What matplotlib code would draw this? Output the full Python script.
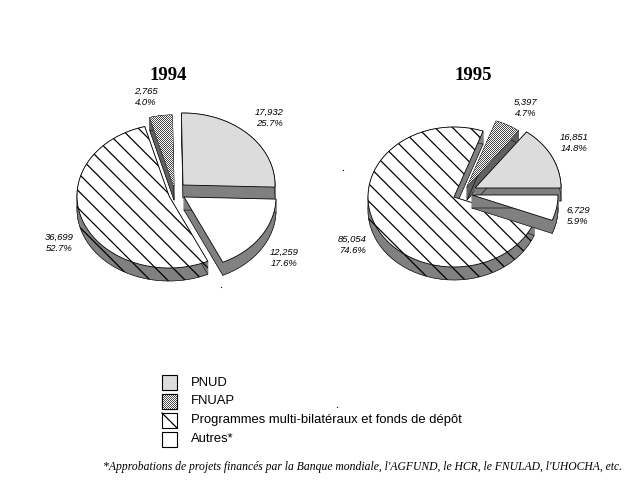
import numpy as np
import matplotlib
matplotlib.use('Agg')
import matplotlib.pyplot as plt
from matplotlib.colors import ListedColormap
from matplotlib.patches import Polygon, Rectangle
from matplotlib.collections import LineCollection

# Values, in the clockwise order of the slices
slices = ['PNUD', 'Autres', 'Multi', 'FNUAP']
values_1994 = [17932, 12259, 36699, 2765]
values_1995 = [16851, 6729, 85054, 5397]

legend_labels = ['PNUD', 'FNUAP', 'Programmes multi-bilatéraux et fonds de dépôt', 'Autres*']
legend_keys = ['PNUD', 'FNUAP', 'Multi', 'Autres']
footnote = "*Approbations de projets financés par la Banque mondiale, l'AGFUND, le HCR, le FNULAD, l'UHOCHA, etc."

# Look of each slice
face = {'PNUD': '#dcdcdc', 'FNUAP': 'white', 'Multi': 'white', 'Autres': 'white'}
side = '#808080'
side_fnuap = '#606060'

# Pixel layout of each pie: centre of every exploded slice, radii, label spots
layout_1994 = {
    'title': (168, 76), 'start': 91, 'rx': 92, 'ry': 72, 'thick': 13,
    'centre': {'PNUD': (183, 185), 'Autres': (184, 197), 'Multi': (169, 196), 'FNUAP': (174, 187)},
    'order': ['FNUAP', 'PNUD', 'Multi', 'Autres'],
    'label': {'PNUD': (269, 118), 'Autres': (284, 258), 'Multi': (59, 243), 'FNUAP': (146, 97)},
}
layout_1995 = {
    'title': (473, 75), 'start': 53.2, 'rx': 86, 'ry': 70, 'thick': 13,
    'centre': {'PNUD': (475, 188), 'Autres': (472, 195), 'Multi': (454, 197), 'FNUAP': (467, 187)},
    'order': ['Multi', 'FNUAP', 'PNUD', 'Autres'],
    'label': {'PNUD': (574, 143), 'Autres': (578, 216), 'Multi': (352, 245), 'FNUAP': (526, 108)},
}

# Stray scan specks in the picture
specks_x = [241, 198, 230, 221, 343, 458, 337]
specks_y = [174, 189, 222, 287, 170, 169, 407]

fig = plt.figure(figsize=(6.4, 4.8), dpi=100)
ax = fig.add_axes([0, 0, 1, 1])
ax.axis('off')

# one pixel dither for the FNUAP pattern
yy, xx = np.mgrid[0:480, 0:640]
dither = (xx + yy) % 2
dither_cmap = ListedColormap(['#4a4a4a', 'white'])


def dither_fill(patch, z):
    im = ax.imshow(dither, cmap=dither_cmap, extent=(0, 640, 480, 0), aspect='auto',
                   interpolation='nearest', zorder=z)
    im.set_clip_path(patch)


def hatch_lines(poly, z, spacing=17.5):
    """Diagonal hatch clipped to a polygon."""
    patch = Polygon(poly, closed=True, facecolor='none', edgecolor='none', zorder=z)
    ax.add_patch(patch)
    segs = [[(c, 0), (c + 480, 480)] for c in np.arange(-480, 640, spacing)]
    lc = LineCollection(segs, colors='black', linewidths=0.9, zorder=z)
    ax.add_collection(lc)
    lc.set_clip_path(patch)


def draw_slice(name, a0, a1, cfg, z):
    cx, cy = cfg['centre'][name]
    t = np.radians(np.linspace(a0, a1, 60))
    arc = np.column_stack([cx + cfg['rx'] * np.cos(t), cy - cfg['ry'] * np.sin(t)])
    top = np.vstack([[cx, cy], arc])
    d = np.array([0, cfg['thick']])
    col = side_fnuap if name == 'FNUAP' else side

    # side walls: sweep every outline edge downwards
    outline = np.vstack([top, top[:1]])
    for p, q in zip(outline[:-1], outline[1:]):
        ax.add_patch(Polygon([p, q, q + d, p + d], closed=True, facecolor=col,
                             edgecolor=col, linewidth=0.5, zorder=z))
    bottom = top + d
    ax.plot(bottom[:, 0], bottom[:, 1], color='black', lw=0.4, zorder=z + 0.05)
    ax.plot(bottom[[0, -1], 0], bottom[[0, -1], 1], color='black', lw=0.4, zorder=z + 0.05)

    if name == 'Multi':
        rim = arc[np.sin(t) < 0]
        if len(rim):
            hatch_lines(np.vstack([rim, (rim + d)[::-1]]), z + 0.1)

    top_patch = Polygon(top, closed=True, facecolor=face[name], edgecolor='black',
                        linewidth=0.6, zorder=z + 0.2)
    ax.add_patch(top_patch)
    if name == 'Multi':
        hatch_lines(top, z + 0.3)
    if name == 'FNUAP':
        dither_fill(top_patch, z + 0.3)


def draw_pie(values, cfg, year):
    total = sum(values)
    ends = np.cumsum(values) / total * 360
    starts = np.r_[0, ends[:-1]]
    spans = {n: (cfg['start'] - s, cfg['start'] - e) for n, s, e in zip(slices, starts, ends)}
    for i, name in enumerate(cfg['order']):
        draw_slice(name, spans[name][0], spans[name][1], cfg, 2 + i)
    for name, v in zip(slices, values):
        x, y = cfg['label'][name]
        ax.text(x, y, f'{v:,}\n{v / total * 100:.1f}%', ha='center', va='center',
                fontsize=6.8, style='italic', family='Liberation Sans', linespacing=1.25,
                zorder=10)
    ax.text(cfg['title'][0], cfg['title'][1], year, ha='center', va='center',
            fontsize=13.5, fontweight='bold', family='Liberation Serif', zorder=10)


draw_pie(values_1994, layout_1994, '1994')
draw_pie(values_1995, layout_1995, '1995')

# Legend
for i, (key, label) in enumerate(zip(legend_keys, legend_labels)):
    y = 375 + 19 * i
    box = Rectangle((162, y), 15, 15, facecolor=face[key], edgecolor='black', linewidth=0.8, zorder=3)
    ax.add_patch(box)
    if key == 'FNUAP':
        dither_fill(box, 3.1)
        ax.add_patch(Rectangle((162, y), 15, 15, facecolor='none', edgecolor='black',
                               linewidth=0.8, zorder=3.2))
    if key == 'Multi':
        ax.plot([162, 177], [y, y + 15], color='black', lw=0.9, zorder=3.2)
    ax.text(191, y + 7.5, label, ha='left', va='center', fontsize=9.35, family='Liberation Sans')

ax.text(103, 467, footnote, ha='left', va='center', fontsize=8.4, style='italic',
        family='Liberation Serif')

ax.plot(specks_x, specks_y, ls='none', marker='s', ms=0.8, color='black', mew=0)

ax.set_xlim(0, 640)
ax.set_ylim(480, 0)

fig.savefig('out.png', dpi=100)
